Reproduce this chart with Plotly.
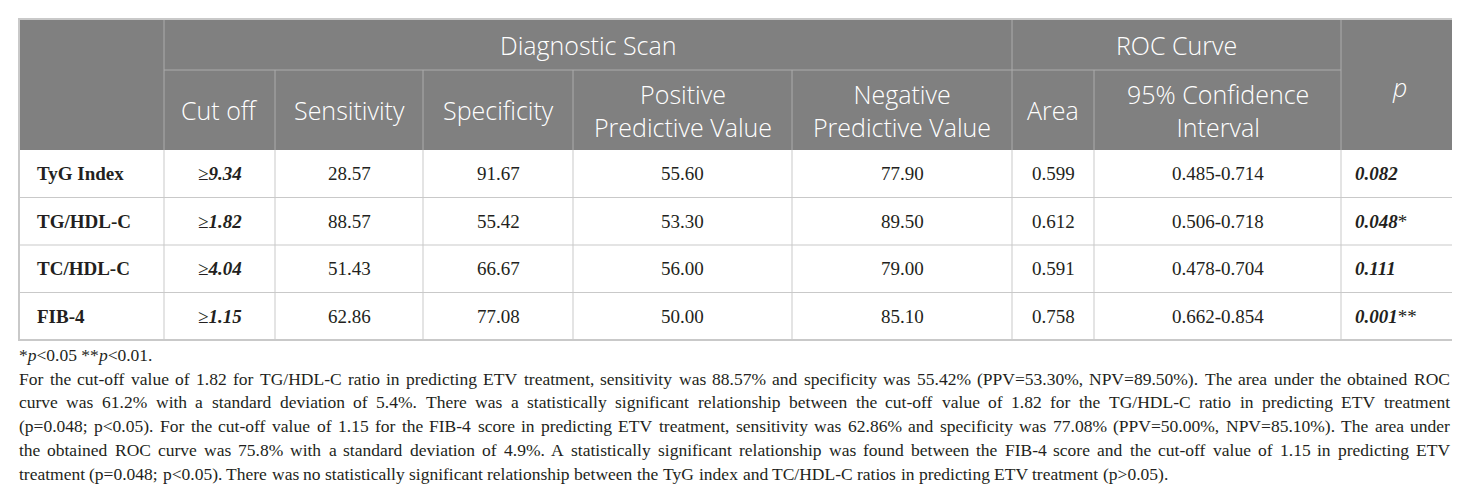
import plotly.graph_objects as go

# ---------------- data ----------------
row_labels = ["TyG Index", "TG/HDL-C", "TC/HDL-C", "FIB-4"]
cut_off = ["9.34", "1.82", "4.04", "1.15"]
sensitivity = ["28.57", "88.57", "51.43", "62.86"]
specificity = ["91.67", "55.42", "66.67", "77.08"]
ppv = ["55.60", "53.30", "56.00", "50.00"]
npv = ["77.90", "89.50", "79.00", "85.10"]
area = ["0.599", "0.612", "0.591", "0.758"]
conf_int = ["0.485-0.714", "0.506-0.718", "0.478-0.704", "0.662-0.854"]
p_values = ["0.082", "0.048", "0.111", "0.001"]
p_stars = ["", "*", "", "**"]

group_headers = ["Diagnostic Scan", "ROC Curve"]
col_headers = [["Cut off"], ["Sensitivity"], ["Specificity"],
               ["Positive", "Predictive Value"], ["Negative", "Predictive Value"],
               ["Area"], ["95% Confidence", "Interval"]]
p_header = "p"

footnote = "*<i>p</i>&lt;0.05 **<i>p</i>&lt;0.01."
paragraph_lines = [
    "For the cut-off value of 1.82 for TG/HDL-C ratio in predicting ETV treatment, sensitivity was 88.57% and specificity was 55.42% (PPV=53.30%, NPV=89.50%). The area under the obtained ROC",
    "curve was 61.2% with a standard deviation of 5.4%. There was a statistically significant relationship between the cut-off value of 1.82 for the TG/HDL-C ratio in predicting ETV treatment",
    "(p=0.048; p<0.05). For the cut-off value of 1.15 for the FIB-4 score in predicting ETV treatment, sensitivity was 62.86% and specificity was 77.08% (PPV=50.00%, NPV=85.10%). The area under",
    "the obtained ROC curve was 75.8% with a standard deviation of 4.9%. A statistically significant relationship was found between the FIB-4 score and the cut-off value of 1.15 in predicting ETV",
    "treatment (p=0.048; p<0.05). There was no statistically significant relationship between the TyG index and TC/HDL-C ratios in predicting ETV treatment (p>0.05).",
]

# ---------------- layout geometry ----------------
W, H = 1460, 494
xb = [11, 156, 267, 415, 565, 784, 1004, 1086, 1333, 1449]
y_top, y_h1, y_h2 = 11, 62, 142
row_h = 47.5
y_bot = y_h2 + row_h * len(row_labels)

HEAD_BG = "#808080"
HEAD_LINE = "#ababab"
GRID = "#c9c9c9"
TXT = "#231f20"
SANS = "Open Sans"
SERIF = "Liberation Serif"
HS = 25
HW = 350
DS = 19

fig = go.Figure()
fig.add_trace(go.Scatter(x=[], y=[], mode="markers", showlegend=False))

shapes = []
def line(x0, y0, x1, y1, color, w=1):
    shapes.append(dict(type="line", xref="x", yref="y", x0=x0, y0=y0, x1=x1, y1=y1,
                       line=dict(color=color, width=w), layer="above"))

# header background
shapes.append(dict(type="rect", xref="x", yref="y", x0=xb[0], x1=xb[-1], y0=y_top, y1=y_h2,
                   fillcolor=HEAD_BG, line=dict(width=0), layer="below"))
# header grid
line(xb[1], y_h1, xb[8], y_h1, HEAD_LINE)
for xv in (xb[1], xb[6], xb[8]):
    line(xv, y_top, xv, y_h2, HEAD_LINE)
for xv in (xb[2], xb[3], xb[4], xb[5], xb[7]):
    line(xv, y_h1, xv, y_h2, HEAD_LINE)
# body grid
for i in range(1, len(row_labels)):
    yv = y_h2 + row_h * i
    line(xb[0], yv, xb[-1], yv, GRID)
for xv in xb[1:-1]:
    line(xv, y_h2, xv, y_bot, GRID)
# outer border
shapes.append(dict(type="rect", xref="x", yref="y", x0=xb[0], x1=xb[-1], y0=y_top, y1=y_bot,
                   fillcolor="rgba(0,0,0,0)", line=dict(color=GRID, width=2), layer="above"))

ann = []
def text(x, y, t, size, family, color, xanchor="center", weight=None):
    f = dict(size=size, family=family, color=color)
    if weight is not None:
        f["weight"] = weight
    ann.append(dict(x=x, y=y, xref="x", yref="y", text=t, showarrow=False,
                    xanchor=xanchor, yanchor="middle", font=f))

# group headers
yc1 = (y_top + y_h1) / 2
text((xb[1] + xb[6]) / 2, yc1, group_headers[0], HS, SANS, "white", weight=HW)
text((xb[6] + xb[8]) / 2, yc1, group_headers[1], HS, SANS, "white", weight=HW)
text((xb[8] + xb[9]) / 2, (y_top + y_h2) / 2 + 2, "<i>" + p_header + "</i>", HS, SANS, "white", weight=HW)
# column headers
yc2 = (y_h1 + y_h2) / 2
for j, lab in enumerate(col_headers):
    xc = (xb[j + 1] + xb[j + 2]) / 2
    text(xc, yc2, "<br>".join(lab), HS, SANS, "white", weight=HW)

# body
cols = [sensitivity, specificity, ppv, npv, area, conf_int]
for i in range(len(row_labels)):
    yc = y_h2 + row_h * (i + 0.5)
    text(xb[0] + 16, yc, "<b>" + row_labels[i] + "</b>", DS, SERIF, TXT, "left")
    text((xb[1] + xb[2]) / 2, yc, "≥<b><i>" + cut_off[i] + "</i></b>", DS, SERIF, TXT)
    for j, col in enumerate(cols):
        text((xb[j + 2] + xb[j + 3]) / 2, yc, col[i], DS, SERIF, TXT)
    text(xb[8] + 12, yc, "<b><i>" + p_values[i] + "</i></b>" + p_stars[i], DS, SERIF, TXT, "left")

# ---------------- notes (justified paragraph) ----------------
TW = {' ': 250, '!': 333, '(': 333, ')': 333, '*': 500, '+': 564, ',': 250, '-': 333,
      '.': 250, '/': 278, ':': 278, ';': 278, '<': 564, '=': 564, '>': 564, '%': 833,
      'A': 722, 'B': 667, 'C': 667, 'D': 722, 'E': 611, 'F': 556, 'G': 722, 'H': 722,
      'I': 333, 'J': 389, 'K': 722, 'L': 611, 'M': 889, 'N': 722, 'O': 722, 'P': 556,
      'Q': 722, 'R': 667, 'S': 556, 'T': 611, 'U': 722, 'V': 722, 'W': 944, 'X': 722,
      'Y': 722, 'Z': 611, 'a': 444, 'b': 500, 'c': 444, 'd': 500, 'e': 444, 'f': 333,
      'g': 500, 'h': 500, 'i': 278, 'j': 278, 'k': 500, 'l': 278, 'm': 778, 'n': 500,
      'o': 500, 'p': 500, 'q': 500, 'r': 333, 's': 389, 't': 278, 'u': 500, 'v': 500,
      'w': 722, 'x': 500, 'y': 500, 'z': 444}
def em(s):
    return sum(TW.get(c, 500) for c in s) / 1000.0

x_left, x_right = 11, 1442
avail = x_right - x_left
FS = 17.5
for ln in paragraph_lines[:-1]:
    FS = min(FS, avail / em(ln))

y_foot = 347
line_step = 23.7
text(x_left - 2, y_foot, footnote, FS, SERIF, TXT, "left")
for k, ln in enumerate(paragraph_lines):
    words = ln.split(" ")
    yv = y_foot + line_step * (k + 1)
    if k == len(paragraph_lines) - 1:
        gap = 0.25 * FS
    else:
        gap = (avail - sum(em(w) for w in words) * FS) / (len(words) - 1)
    xc = x_left
    for w in words:
        t = w.replace("<", "&lt;").replace(">", "&gt;")
        text(xc - 2, yv, t, FS, SERIF, TXT, "left")
        xc += em(w) * FS + gap

fig.update_layout(
    width=W, height=H, margin=dict(l=0, r=0, t=0, b=0),
    paper_bgcolor="white", plot_bgcolor="white",
    xaxis=dict(range=[0, W], visible=False, fixedrange=True),
    yaxis=dict(range=[H, 0], visible=False, fixedrange=True),
    shapes=shapes, annotations=ann, showlegend=False,
)
fig.write_html("out.html", config={"displayModeBar": False})
